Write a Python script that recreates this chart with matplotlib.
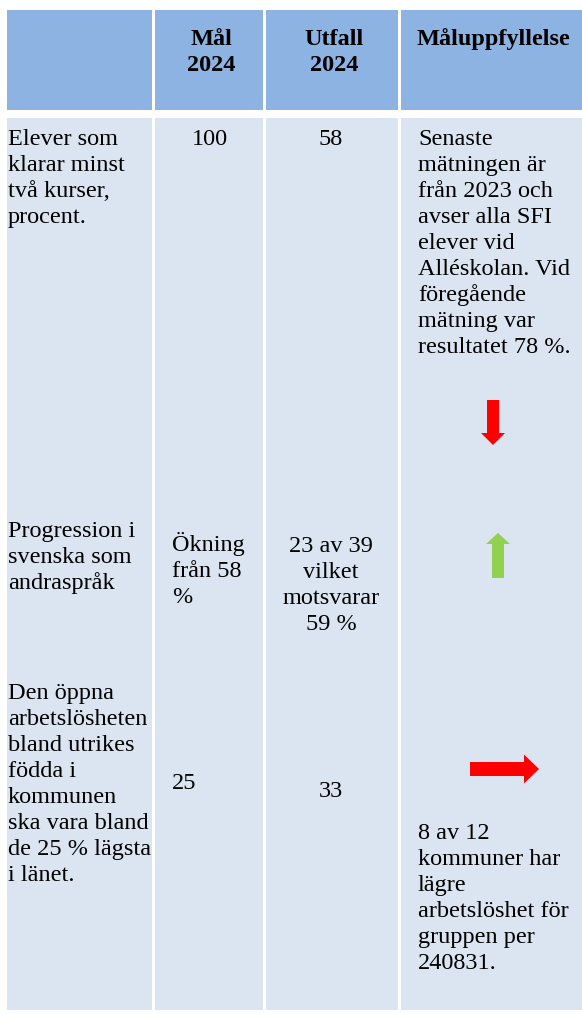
import matplotlib.pyplot as plt
from matplotlib.patches import Rectangle, FancyArrow

# ---- table content ----
headers = ["", "Mål\n2024", "Utfall\n2024", "Måluppfyllelse"]

indicators = [
    ["Elever som", "klarar minst", "två kurser,", "procent."],
    ["Progression i", "svenska som", "andraspråk"],
    ["Den öppna", "arbetslösheten", "bland utrikes", "födda i", "kommunen",
     "ska vara bland", "de 25 % lägsta", "i länet."],
]
goals = [["100"], ["Ökning", "från 58", "%"], ["25"]]
outcomes = [["58"], ["23 av 39", "vilket", "motsvarar", "59 %"], ["33"]]
comments = [
    ["Senaste", "mätningen är", "från 2023 och", "avser alla SFI", "elever vid",
     "Alléskolan. Vid", "föregående", "mätning var", "resultatet 78 %."],
    [],
    ["8 av 12", "kommuner har", "lägre", "arbetslöshet för", "gruppen per",
     "240831."],
]
trend = ["down", "up", "right"]
trend_color = {"down": "#FF0000", "up": "#92D050", "right": "#FF0000"}

# ---- layout (pixel coords) ----
W, H = 582, 1014
fig = plt.figure(figsize=(W / 100, H / 100), dpi=100)
ax = fig.add_axes([0, 0, 1, 1])
ax.set_xlim(0, W)
ax.set_ylim(H, 0)
ax.axis("off")

col_x = [(7, 152), (155, 263), (266, 398), (401, 582)]
head_y = (10, 110)
body_y = (118, 1010)
head_col = "#8DB3E2"
body_col = "#DBE5F1"

for x0, x1 in col_x:
    ax.add_patch(Rectangle((x0, head_y[0]), x1 - x0, head_y[1] - head_y[0],
                           color=head_col, lw=0))
    ax.add_patch(Rectangle((x0, body_y[0]), x1 - x0, body_y[1] - body_y[0],
                           color=body_col, lw=0))

font = dict(family="Liberation Serif", fontsize=17.5, color="black")
LS = 26

# headers
for (x0, x1), h in zip(col_x, headers):
    for i, line in enumerate(h.split("\n")):
        ax.text((x0 + x1) / 2 + 2, 45 + i * LS, line, ha="center",
                va="baseline", fontweight="bold", **font)


def block(lines, x, y, ha="left"):
    for i, line in enumerate(lines):
        ax.text(x, y + i * LS, line, ha=ha, va="baseline", **font)


# row starts (baseline of first line)
ind_y = [145, 537, 699]
goal_y = [145, 551, 789]
goal_x = [("center", 210), ("left", 172), ("left", 172)]
out_y = [145, 552, 797]
com_y = [145, None, 839]

for k in range(3):
    block(indicators[k], 8, ind_y[k])
    ha, gx = goal_x[k]
    block(goals[k], gx, goal_y[k], ha)
    block(outcomes[k], 331, out_y[k], "center")
    if comments[k]:
        block(comments[k], 418, com_y[k])

# trend arrows
arrow_geom = {
    "down": dict(x=493, y=400, dx=0, dy=45, width=12, head_width=24, head_length=12),
    "up": dict(x=498, y=578, dx=0, dy=-45, width=12, head_width=24, head_length=11),
    "right": dict(x=470, y=769, dx=69, dy=0, width=14, head_width=29, head_length=15),
}
for t in trend:
    ax.add_patch(FancyArrow(length_includes_head=True, color=trend_color[t],
                            lw=0, **arrow_geom[t]))

fig.savefig("out.png", dpi=100)
